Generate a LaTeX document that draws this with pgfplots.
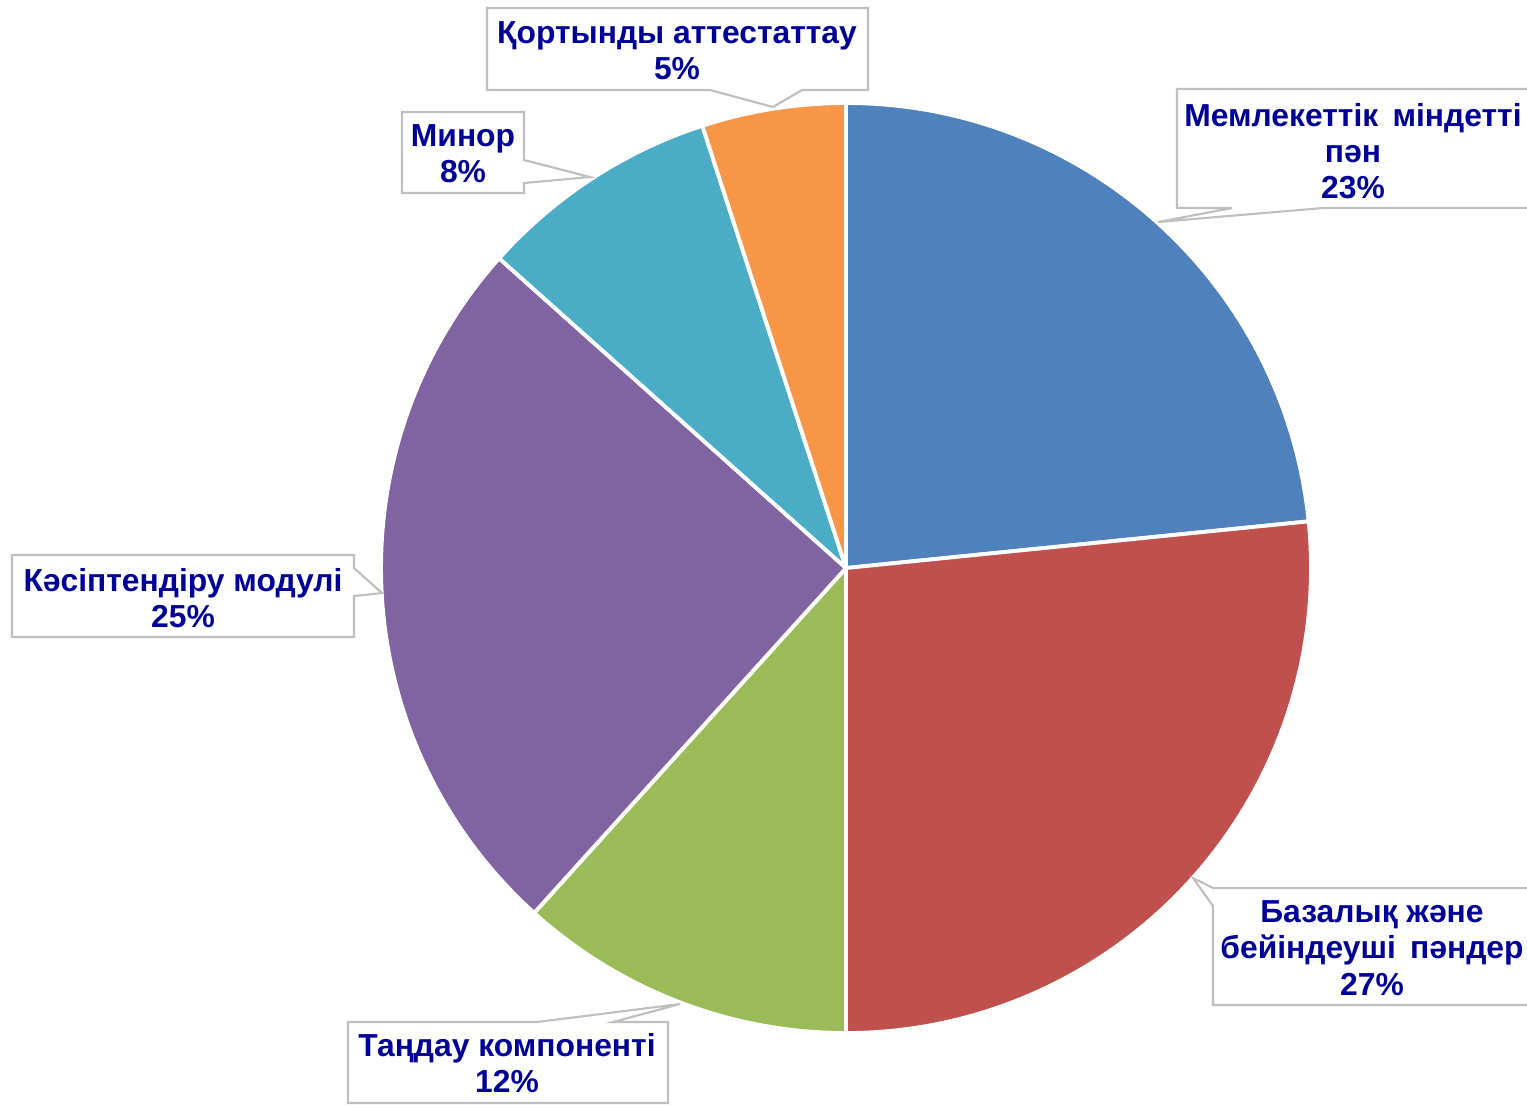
\documentclass[border=0pt]{standalone}
\usepackage{pgfplots}
\pgfplotsset{compat=1.18}
\usepackage{pgfplotstable}
\usepackage{fontspec}
\setmainfont{Liberation Sans}

\definecolor{c0}{HTML}{4F81BD}
\definecolor{c1}{HTML}{C0504D}
\definecolor{c2}{HTML}{9BBB59}
\definecolor{c3}{HTML}{8064A2}
\definecolor{c4}{HTML}{4BACC6}
\definecolor{c5}{HTML}{F79646}
\definecolor{lbl}{HTML}{000099}
\definecolor{bx}{HTML}{BFBFBF}

% shares of the pie, clockwise from 12 o'clock
\pgfplotstableread{
value
23.4
26.6
11.7
24.9
8.4
5.0
}\piedata

\begin{document}
\begin{tikzpicture}
\def\cum{0}
\pgfplotsforeachungrouped \i in {0,...,5}{%
  \pgfplotstablegetelem{\i}{value}\of\piedata
  \pgfmathsetmacro\a{90-3.6*\cum}%
  \pgfmathsetmacro\cum{\cum+\pgfplotsretval}%
  \pgfmathsetmacro\b{90-3.6*\cum}%
  \expandafter\xdef\csname sa\i\endcsname{\a}%
  \expandafter\xdef\csname sb\i\endcsname{\b}%
}
\begin{axis}[width=15.27cm,height=11.07cm,scale only axis,hide axis,
  xmin=0,xmax=1527,ymin=0,ymax=1107,y dir=reverse,clip=false]
\coordinate (BBa) at (axis cs:0,0);
\coordinate (BBb) at (axis cs:1527,1107);
\pgfplotsinvokeforeach{0,...,5}{
  \fill[c#1,draw=white,line width=1.1pt,line join=round] (axis cs:846,568) -- ++(\csname sa#1\endcsname:4.65cm)
    arc[start angle=\csname sa#1\endcsname,end angle=\csname sb#1\endcsname,radius=4.65cm] -- cycle;
}
\tikzset{cbox/.style={draw=bx,fill=white,line width=0.6pt,line join=miter},
  lab/.style={text=lbl,align=center,font=\fontsize{9.05}{10.3}\selectfont\bfseries}}
% Қортынды аттестаттау
\draw[cbox] (axis cs:487,8) -- (axis cs:868,8) -- (axis cs:868,90) -- (axis cs:802,90) -- (axis cs:773,107) -- (axis cs:710,90) -- (axis cs:487,90) -- cycle;
\node[lab] at (axis cs:677,51) {Қортынды аттестаттау\\5\%};
% Мемлекеттік
\draw[cbox] (axis cs:1177,89) -- (axis cs:1545,89) -- (axis cs:1545,208) -- (axis cs:1323,208) -- (axis cs:1158,222) -- (axis cs:1232,208) -- (axis cs:1177,208) -- cycle;
\node[lab] at (axis cs:1353,151) {Мемлекеттік\hspace{0.45em}міндетті\\пән\\23\%};
% Минор
\draw[cbox] (axis cs:402,112) -- (axis cs:524,112) -- (axis cs:524,160) -- (axis cs:590,177) -- (axis cs:524,183) -- (axis cs:524,193) -- (axis cs:402,193) -- cycle;
\node[lab] at (axis cs:463,154) {Минор\\8\%};
% Кәсіптендіру
\draw[cbox] (axis cs:12,555) -- (axis cs:354,555) -- (axis cs:354,568) -- (axis cs:382,593) -- (axis cs:354,596) -- (axis cs:354,637) -- (axis cs:12,637) -- cycle;
\node[lab] at (axis cs:183,598) {Кәсіптендіру модулі\\25\%};
% Таңдау
\draw[cbox] (axis cs:348,1022) -- (axis cs:537,1022) -- (axis cs:680,1004) -- (axis cs:613,1022) -- (axis cs:668,1022) -- (axis cs:668,1103) -- (axis cs:348,1103) -- cycle;
\node[lab] at (axis cs:507,1063) {Таңдау компоненті\\12\%};
% Базалық
\draw[cbox] (axis cs:1213,888) -- (axis cs:1545,888) -- (axis cs:1545,1005) -- (axis cs:1213,1005) -- (axis cs:1213,906) -- (axis cs:1193,878) -- cycle;
\node[lab] at (axis cs:1372,948) {Базалық және\\бейіндеуші\hspace{0.45em}пәндер\\27\%};
\end{axis}
\pgfresetboundingbox
\path[use as bounding box] (BBa) rectangle (BBb);
\end{tikzpicture}
\end{document}
